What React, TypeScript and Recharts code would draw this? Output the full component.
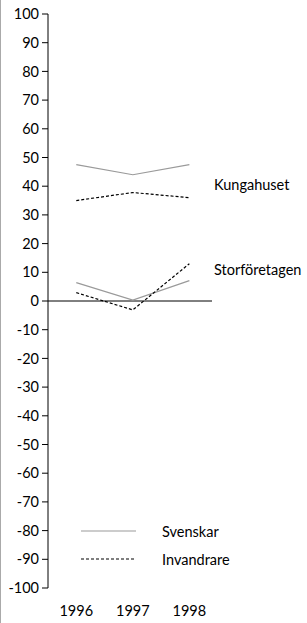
import {
  LineChart,
  Line,
  XAxis,
  YAxis,
  ReferenceLine,
  ReferenceDot,
} from 'recharts'

const years = [1996, 1997, 1998]
const yTicks = [100, 90, 80, 70, 60, 50, 40, 30, 20, 10, 0, -10, -20, -30, -40, -50, -60, -70, -80, -90, -100]

// Kungahuset
const svenskarKung = [47.5, 44, 47.5]
const invandrareKung = [35, 37.8, 36]
// Storföretagen
const svenskarStor = [6.4, 0.3, 7.1]
const invandrareStor = [2.9, -3.1, 13]

const groupLabels = [
  { name: 'Kungahuset', y: 40.4 },
  { name: 'Storföretagen', y: 10.8 },
]

const legendItems = [
  { name: 'Svenskar', color: '#9a9a9a', dash: undefined },
  { name: 'Invandrare', color: '#000', dash: '3 2' },
]

const data = years.map((year, i) => ({
  year,
  svenskarKung: svenskarKung[i],
  invandrareKung: invandrareKung[i],
  svenskarStor: svenskarStor[i],
  invandrareStor: invandrareStor[i],
}))

const font = 'Lato, "Open Sans", sans-serif'

function LegendBox() {
  return (
    <div style={{ position: 'absolute', left: 80, top: 517, fontFamily: font, fontSize: 14.5, color: '#000' }}>
      {legendItems.map((item) => (
        <div key={item.name} style={{ display: 'flex', alignItems: 'center', height: 28 }}>
          <svg width={56} height={4} style={{ marginRight: 25 }}>
            <line
              x1={0}
              y1={2}
              x2={55}
              y2={2}
              stroke={item.color}
              strokeWidth={1.2}
              strokeDasharray={item.dash}
            />
          </svg>
          <span>{item.name}</span>
        </div>
      ))}
    </div>
  )
}

export default function App() {
  return (
    <div style={{ borderLeft: '1px solid #aaa', width: 306, height: 623, position: 'absolute', left: 0, top: 0, background: '#fff' }}>
      <LineChart
        width={306}
        height={623}
        data={data}
        margin={{ top: 14, right: 95, left: 0, bottom: 0 }}
      >
        <XAxis
          dataKey="year"
          type="number"
          domain={[1995.5, 1998.4]}
          ticks={years}
          axisLine={false}
          tickLine={false}
          tickSize={8}
          tickMargin={10}
          height={35}
          tick={{ fill: '#000', fontSize: 14.5, fontFamily: font }}
        />
        <YAxis
          domain={[-100, 100]}
          ticks={yTicks}
          interval={0}
          width={47}
          tickSize={6}
          tickMargin={3}
          axisLine={{ stroke: '#000' }}
          tickLine={{ stroke: '#000' }}
          tick={{ fill: '#000', fontSize: 14.5, fontFamily: font }}
        />
        <ReferenceLine y={0} stroke="#000" strokeWidth={1} />
        <Line dataKey="svenskarKung" stroke="#9a9a9a" strokeWidth={1.2} dot={false} isAnimationActive={false} type="linear" />
        <Line dataKey="invandrareKung" stroke="#000" strokeWidth={1.2} strokeDasharray="3 2" dot={false} isAnimationActive={false} type="linear" />
        <Line dataKey="svenskarStor" stroke="#9a9a9a" strokeWidth={1.2} dot={false} isAnimationActive={false} type="linear" />
        <Line dataKey="invandrareStor" stroke="#000" strokeWidth={1.2} strokeDasharray="3 2" dot={false} isAnimationActive={false} type="linear" />
        {groupLabels.map((g) => (
          <ReferenceDot
            key={g.name}
            x={1998.4}
            y={g.y}
            r={0}
            fill="none"
            stroke="none"
            label={{ value: g.name, position: 'right', offset: 2, fill: '#000', fontSize: 14.5, fontFamily: font }}
          />
        ))}
      </LineChart>
      <LegendBox />
    </div>
  )
}
